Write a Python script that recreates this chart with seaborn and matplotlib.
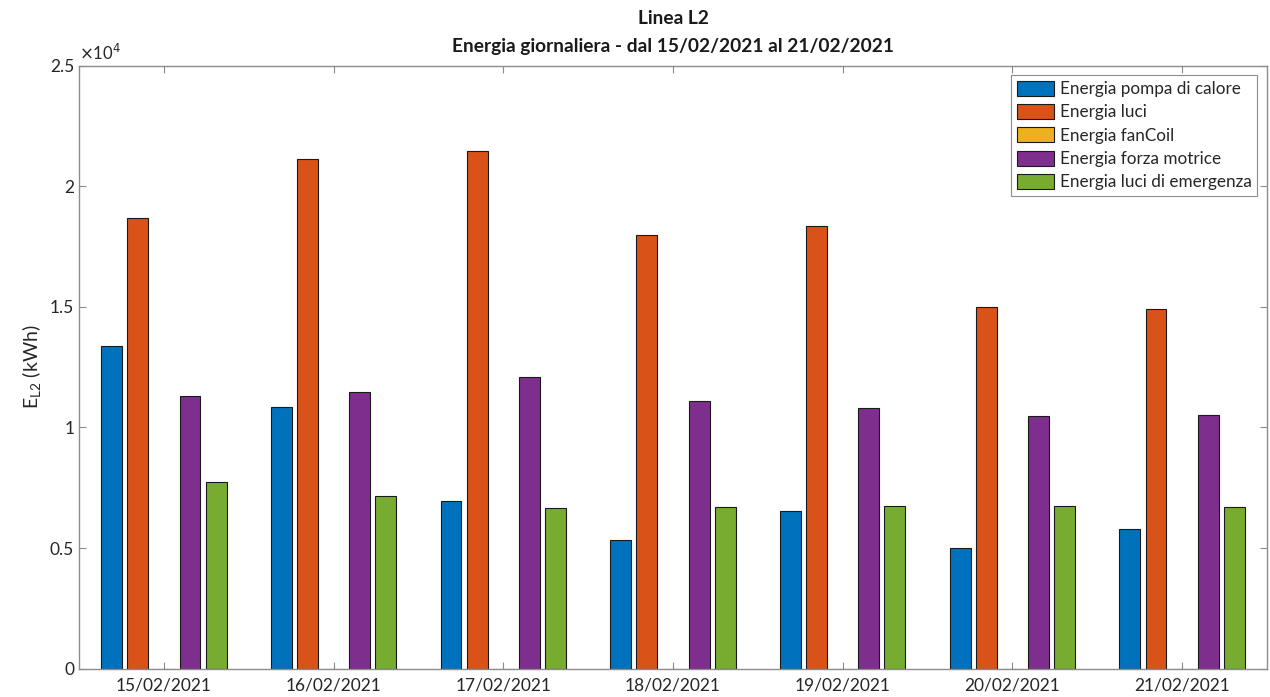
import matplotlib
matplotlib.use("Agg")
import matplotlib.pyplot as plt
from matplotlib.ticker import FuncFormatter
import numpy as np
import pandas as pd
import seaborn as sns

# dati (kWh)
giorni = ["15/02/2021", "16/02/2021", "17/02/2021", "18/02/2021",
          "19/02/2021", "20/02/2021", "21/02/2021"]
pompa_calore = [13360, 10850, 6950, 5330, 6540, 5020, 5780]
luci = [18700, 21110, 21470, 17980, 18340, 15000, 14900]
fan_coil = [0, 0, 0, 0, 0, 0, 0]
forza_motrice = [11290, 11470, 12070, 11080, 10790, 10490, 10510]
luci_emergenza = [7730, 7170, 6680, 6710, 6750, 6750, 6710]

serie = ["Energia pompa di calore", "Energia luci", "Energia fanCoil",
         "Energia forza motrice", "Energia luci di emergenza"]
colori = ["#0072BD", "#D95319", "#EDB120", "#7E2F8E", "#77AC30"]

df = pd.DataFrame({"giorno": giorni,
                   serie[0]: pompa_calore,
                   serie[1]: luci,
                   serie[2]: fan_coil,
                   serie[3]: forza_motrice,
                   serie[4]: luci_emergenza})
df_long = df.melt(id_vars="giorno", var_name="serie", value_name="energia")

sns.set_style("ticks")
plt.rcParams["font.family"] = ["Lato", "DejaVu Sans"]
plt.rcParams["axes.edgecolor"] = "#8c8c8c"
plt.rcParams["xtick.color"] = "#8c8c8c"
plt.rcParams["ytick.color"] = "#8c8c8c"
plt.rcParams["xtick.labelcolor"] = "#262626"
plt.rcParams["ytick.labelcolor"] = "#262626"

fig = plt.figure(figsize=(12.7, 6.97), dpi=100)
ax = fig.add_axes([0.0622, 0.0406, 0.9354, 0.8654])

sns.barplot(data=df_long, x="giorno", y="energia", hue="serie",
            hue_order=serie, palette=colori, order=giorni, saturation=1,
            width=0.77, gap=0.2, edgecolor="#1a1a1a", linewidth=0.8,
            errorbar=None, ax=ax)

ax.set_xlim(-0.5, 6.5)
ax.set_ylim(0, 25000)
ax.set_yticks(np.arange(0, 25001, 5000))
ax.yaxis.set_major_formatter(FuncFormatter(lambda v, p: f"{v / 1e4:g}"))
ax.text(0.0, 1.005, r"$\times$10$^4$", transform=ax.transAxes,
        fontsize=12, color="#262626", ha="left", va="bottom")

for s in ax.spines.values():
    s.set_visible(True)
    s.set_color("#8c8c8c")
    s.set_linewidth(1.0)
ax.tick_params(direction="in", top=True, right=True, length=5,
               labelsize=12.5, width=0.8)
ax.tick_params(axis="x", pad=6)

ax.set_xlabel("")
ax.set_ylabel(r"E$_\mathregular{L2}$ (kWh)", fontsize=14, color="#262626")
ax.set_title("Linea L2\nEnergia giornaliera - dal 15/02/2021 al 21/02/2021",
             fontsize=13.8, fontweight="bold", color="#1a1a1a", pad=10,
             linespacing=1.75)

leg = ax.legend(loc="upper right", bbox_to_anchor=(0.992, 0.985),
                fontsize=12.3, frameon=True, fancybox=False,
                edgecolor="#8c8c8c", framealpha=1, handlelength=2.2,
                handleheight=1.0, handletextpad=0.3, labelspacing=0.4,
                borderpad=0.35, borderaxespad=0.0)
leg.get_frame().set_linewidth(0.8)

fig.savefig("out.png", dpi=100)
